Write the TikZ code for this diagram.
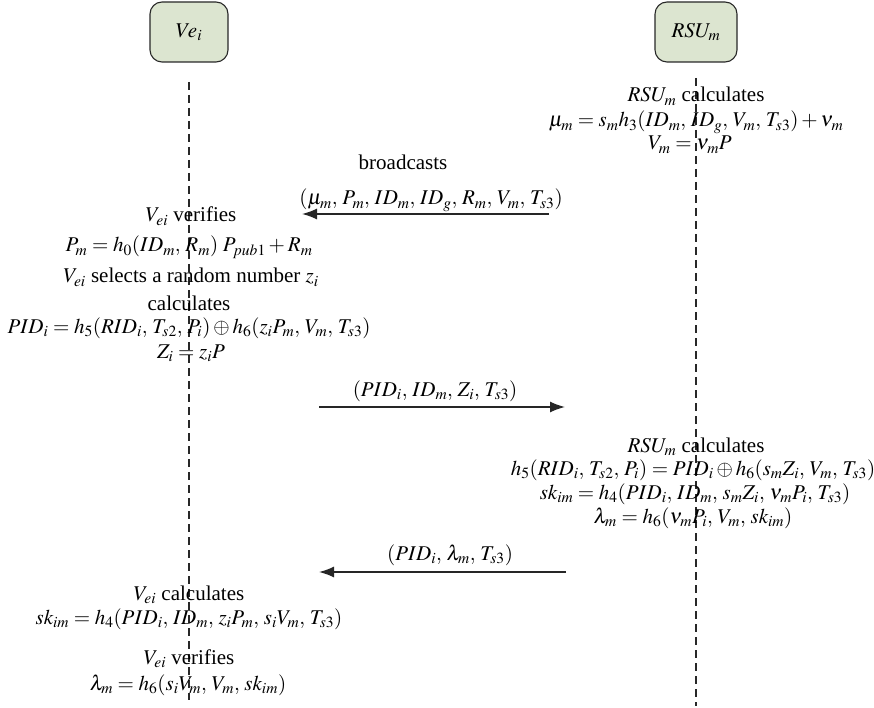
\documentclass[tikz,border=0pt]{standalone}
\usepackage{mathptmx}
\usepackage{fontspec}
\setmainfont{Liberation Serif}
\newfontfamily\txtserif{Liberation Serif}
\usetikzlibrary{arrows.meta}
\definecolor{boxfill}{RGB}{220,229,208}
\definecolor{boxline}{RGB}{40,40,40}
\definecolor{lifeline}{RGB}{40,40,40}
\newcommand{\cs}{,\,}
\begin{document}
\begin{tikzpicture}[x=1pt,y=-1pt,
  txt/.style={inner sep=0pt, anchor=base, font=\txtserif\fontsize{21}{25}\selectfont},
  actor/.style={draw=boxline, line width=1.1pt, fill=boxfill, rounded corners=12pt,
    minimum height=60pt, inner sep=0pt, font=\txtserif\fontsize{21}{25}\selectfont},
  life/.style={draw=lifeline, line width=1.1pt, dash pattern=on 8pt off 5pt},
  msg/.style={draw=black!85, line width=1.4pt, -{Latex[length=15pt,width=11pt]}}]
\useasboundingbox (0,0) rectangle (874,708);

% actors
\node[actor, minimum width=78pt] (ve) at (189,32) {$Ve_i$};
\node[actor, minimum width=82pt] (rsu) at (696,32) {$RSU_m$};

% lifelines
\coordinate (vetop) at (189,82);
\coordinate (vebot) at (189,700);
\coordinate (rsutop) at (696,78);
\coordinate (rsubot) at (696,706);
\draw[life] (vetop) -- (vebot);
\draw[life] (rsutop) -- (rsubot);

% block 1
\node[txt] (r1a) at (696,102) {$RSU_m$ calculates};
\node[txt] (r1b) at (696,127) {$\mu_m = s_m h_3(ID_m\cs ID_g\cs V_m\cs T_{s3}) + \nu_m$};
\node[txt] (r1c) at (690,150) {$V_m = \nu_m P$};

% message 1
\node[txt] (m1a) at (403,170) {broadcasts};
\node[txt] (m1b) at (431,205) {$(\mu_m\cs P_m\cs ID_m\cs ID_g\cs R_m\cs V_m\cs T_{s3})$};
\coordinate (a1s) at (549,214);
\coordinate (a1e) at (302,214);
\draw[msg] (a1s) -- (a1e);

% block 2
\node[txt] (v2a) at (191,222) {$V_{ei}$ verifies};
\node[txt] (v2b) at (189,252) {$P_m = h_0(ID_m\cs R_m)\; P_{pub1} + R_m$};
\node[txt] (v2c) at (191,283) {$V_{ei}$ selects a random number $z_i$};
\node[txt] (v2d) at (189,310) {calculates};
\node[txt] (v2e) at (189,333) {$PID_i = h_5(RID_i\cs T_{s2}\cs P_i) \oplus h_6(z_iP_m\cs V_m\cs T_{s3})$};
\node[txt] (v2f) at (191,358) {$Z_i = z_iP$};

% message 2
\node[txt] (m2) at (435,396) {$(PID_i\cs ID_m\cs Z_i\cs T_{s3})$};
\coordinate (a2s) at (319,407);
\coordinate (a2e) at (565,407);
\draw[msg] (a2s) -- (a2e);

% block 3
\node[txt] (r3a) at (696,452) {$RSU_m$ calculates};
\node[txt] (r3b) at (693,475) {$h_5(RID_i\cs T_{s2}\cs P_i) = PID_i \oplus h_6(s_mZ_i\cs V_m\cs T_{s3})$};
\node[txt] (r3c) at (695,499) {$sk_{im} = h_4(PID_i\cs ID_m\cs s_mZ_i\cs \nu_mP_i\cs T_{s3})$};
\node[txt] (r3d) at (693,523) {$\lambda_m = h_6(\nu_mP_i\cs V_m\cs sk_{im})$};

% message 3
\node[txt] (m3) at (450,560) {$(PID_i\cs \lambda_m\cs T_{s3})$};
\coordinate (a3s) at (566,572);
\coordinate (a3e) at (319,572);
\draw[msg] (a3s) -- (a3e);

% block 4
\node[txt] (v4a) at (189,600) {$V_{ei}$ calculates};
\node[txt] (v4b) at (189,624) {$sk_{im} = h_4(PID_i\cs ID_m\cs z_iP_m\cs s_iV_m\cs T_{s3})$};
\node[txt] (v4c) at (189,664) {$V_{ei}$ verifies};
\node[txt] (v4d) at (188,690) {$\lambda_m = h_6(s_iV_m\cs V_m\cs sk_{im})$};
\end{tikzpicture}
\end{document}
